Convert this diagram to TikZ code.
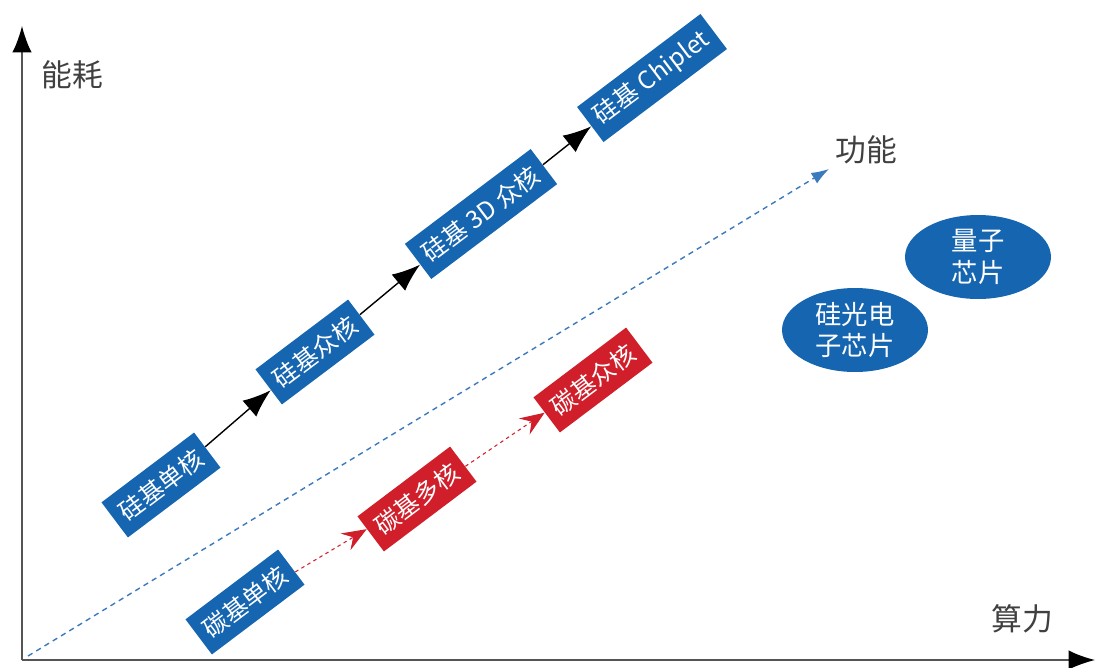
\documentclass[tikz,border=0pt]{standalone}
\usepackage{fontspec}
\setmainfont{Noto Sans CJK SC}
\usetikzlibrary{arrows.meta,shapes.geometric,positioning}
\definecolor{chipblue}{RGB}{21,101,176}
\definecolor{chipred}{RGB}{208,30,42}
\definecolor{dashblue}{RGB}{60,122,190}
\definecolor{axisgray}{RGB}{85,85,85}

\begin{document}
\begin{tikzpicture}[x=0.02cm,y=-0.02cm,
    chip/.style={fill=chipblue,text=white,rotate=37,inner xsep=5pt,inner ysep=0pt,
                 minimum height=25pt,font=\fontsize{14}{16}\selectfont},
    cchip/.style={chip,fill=chipred},
    blob/.style={ellipse,fill=chipblue,text=white,inner sep=0pt,minimum width=2.92cm,
                 minimum height=1.68cm,align=center,font=\fontsize{15}{18}\selectfont},
    axlabel/.style={font=\fontsize{17.5}{20}\selectfont,text=black!75}]
  \useasboundingbox (0,0) rectangle (1096,667);

  % axes
  \coordinate (o) at (22,660);
  \coordinate (ytop) at (22,26);
  \coordinate (xend) at (1095,660);
  \draw[axisgray,line width=0.9pt,-{Latex[length=15pt,width=11pt,black]}] (o) -- (ytop);
  \draw[axisgray,line width=0.9pt,-{Latex[length=15pt,width=11pt,black]}] (o) -- (xend);
  \node(power) at (72,75) [axlabel] {能耗};
  \node(comp) at (1022,619) [axlabel] {算力};
  \node(func) at (866,150) [axlabel] {功能};

  % dashed trend line
  \coordinate (fs) at (28,656);
  \coordinate (fe) at (829,169);
  \draw[dashblue,line width=0.8pt,dash pattern=on 3pt off 2.5pt,
        -{Latex[length=10pt,width=7pt,dashblue]}] (fs) -- (fe);

  % silicon line
  \node(si1) at (161,485) [chip] {硅基单核};
  \node(si2) at (315,352) [chip] {硅基众核};
  \node(si3) at (481,214) [chip] {硅基 3D 众核};
  \node(si4) at (652,78) [chip] {硅基 Chiplet};

  % carbon line
  \node(c1) at (245,602) [chip] {碳基单核};
  \node(c2) at (417,499) [cchip] {碳基多核};
  \node(c3) at (593,380) [cchip] {碳基众核};

  % other chips
  \node(q) at (978,257) [blob] {量子\\芯片};
  \node(sp) at (855,330) [blob] {硅光电\\子芯片};

  \draw (si1) edge[-{Latex[length=16pt,width=12pt]}, line width=0.8pt] (si2);
  \draw (si2) edge[-{Latex[length=16pt,width=12pt]}, line width=0.8pt] (si3);
  \draw (si3) edge[-{Latex[length=16pt,width=12pt]}, line width=0.8pt] (si4);
  \draw (c1) edge[-{Stealth[length=14pt,width=11pt,inset=5pt]}, chipred, line width=0.6pt,
                  dash pattern=on 2pt off 2pt] (c2);
  \draw (c2) edge[-{Stealth[length=14pt,width=11pt,inset=5pt]}, chipred, line width=0.6pt,
                  dash pattern=on 2pt off 2pt] (c3);
\end{tikzpicture}
\end{document}
